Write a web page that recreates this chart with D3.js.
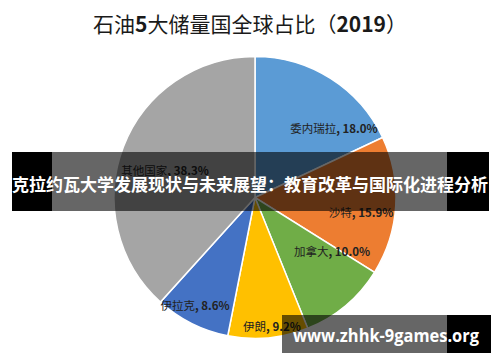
<!DOCTYPE html>
<html><head><meta charset="utf-8">
<script src="https://cdn.jsdelivr.net/npm/d3@7/dist/d3.min.js"></script>
<style>body{margin:0;background:#fff}svg{display:block}</style>
</head><body>
<svg id="c" width="500" height="362"></svg>
<script>
const categories = ["委内瑞拉","沙特","加拿大","伊朗","伊拉克","其他国家"];
const values = [18.0, 15.9, 10.0, 9.2, 8.6, 38.3];
const valueLabels = ["18.0%","15.9%","10.0%","9.2%","8.6%","38.3%"];
const colors = ["#5B9BD5","#ED7D31","#70AD47","#FFC000","#4472C4","#A5A5A5"];
// label placement: [angle offset from slice mid (deg), radius fraction]
const labelPlace = [[16.3,0.745],[4.6,0.76],[-15.5,0.663],[-2.1,0.92],[2.4,0.876],[-4,0.667]];

const svg = d3.select("#c");
const W=500,H=362, cx=255, cy=197.5, R=141;
const font = "'Noto Sans CJK SC','Noto Sans',sans-serif";

// title
const t = svg.append("text").attr("x",250).attr("y",23).attr("text-anchor","middle")
  .attr("dominant-baseline","central").attr("font-family",font).attr("font-size",21).attr("fill","#1a1a1a");
t.append("tspan").text("石油");
t.append("tspan").attr("font-weight","bold").text("5");
t.append("tspan").text("大储量国全球占比（");
t.append("tspan").attr("font-weight","bold").text("2019");
t.append("tspan").text("）");

const pie = d3.pie().sort(null).value(d=>d)(values);
const arc = d3.arc().innerRadius(0).outerRadius(R);
const g = svg.append("g").attr("transform",`translate(${cx},${cy})`);
g.selectAll("path").data(pie).join("path")
  .attr("d",arc).attr("fill",(d,i)=>colors[i]).attr("stroke","#fff").attr("stroke-width",1.5);

pie.forEach((d,i)=>{
  const mid = (d.startAngle+d.endAngle)/2 + labelPlace[i][0]*Math.PI/180;
  const r = labelPlace[i][1]*R;
  const x = Math.sin(mid)*r, y = -Math.cos(mid)*r;
  const tx = g.append("text").attr("x",x).attr("y",y).attr("text-anchor","middle")
    .attr("dominant-baseline","central").attr("font-family",font).attr("font-size",11.5).attr("fill","#222");
  tx.append("tspan").text(categories[i]);
  tx.append("tspan").attr("font-weight","bold").text(", "+valueLabels[i]);
});

// banner overlay
svg.append("rect").attr("x",12).attr("y",152).attr("width",40).attr("height",59).attr("fill","#000");
svg.append("rect").attr("x",447).attr("y",152).attr("width",42).attr("height",59).attr("fill","#000");
svg.append("rect").attr("x",52).attr("y",152).attr("width",395).attr("height",59).attr("fill","rgba(0,0,0,0.6)");
svg.append("text").attr("x",250).attr("y",183).attr("text-anchor","middle").attr("dominant-baseline","central")
  .attr("font-family",font).attr("font-weight","bold").attr("font-size",17.5).attr("fill","#fff")
  .attr("textLength",476).attr("lengthAdjust","spacingAndGlyphs")
  .text("克拉约瓦大学发展现状与未来展望：教育改革与国际化进程分析");

// watermark
svg.append("rect").attr("x",282).attr("y",315).attr("width",165).attr("height",38).attr("fill","rgba(0,0,0,0.6)");
svg.append("rect").attr("x",447).attr("y",315).attr("width",44).attr("height",38).attr("fill","#000");
svg.append("text").attr("x",386).attr("y",335).attr("text-anchor","middle").attr("dominant-baseline","central")
  .attr("font-family","'Open Sans','DejaVu Sans',sans-serif").attr("font-weight","bold").attr("font-size",18).attr("fill","#fff")
  .attr("textLength",186).attr("lengthAdjust","spacingAndGlyphs")
  .text("www.zhhk-9games.org");
</script>
</body></html>
